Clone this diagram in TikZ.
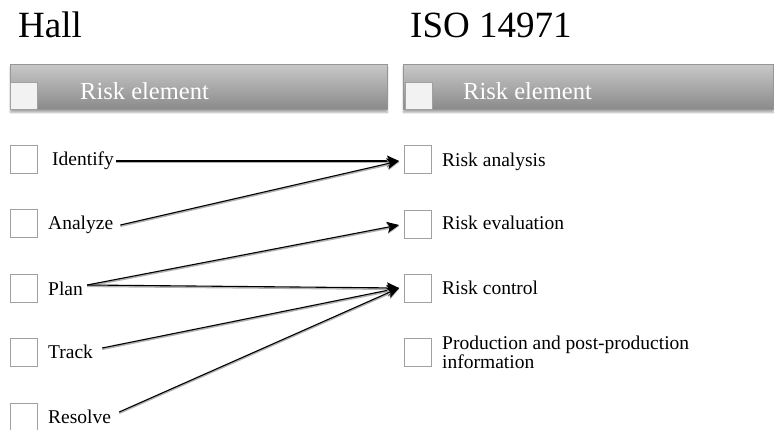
\documentclass[tikz,border=0pt]{standalone}
\usepackage{fontspec}
\setmainfont{Liberation Serif}
\usetikzlibrary{arrows.meta,calc,shadows.blur}
\definecolor{boxline}{RGB}{160,160,160}
\definecolor{bartop}{RGB}{200,200,200}
\definecolor{barbot}{RGB}{138,138,138}
\definecolor{barline}{RGB}{150,150,150}
\tikzset{
  title/.style={anchor=base west,inner sep=0pt,font=\fontsize{37}{40}\selectfont},
  bar/.style={draw=barline,line width=0.8pt,top color=bartop,bottom color=barbot,
    blur shadow={shadow xshift=0pt,shadow yshift=-3pt,shadow blur steps=6,shadow opacity=35}},
  barbox/.style={draw=boxline,line width=0.8pt,fill={rgb,255:red,242;green,242;blue,242}},
  bartext/.style={anchor=base west,inner sep=0pt,text=white,font=\fontsize{24.5}{28}\selectfont},
  cbox/.style={draw=boxline,line width=0.9pt,fill=white,minimum width=27pt,minimum height=28pt,inner sep=0pt},
  item/.style={anchor=base west,inner sep=0pt,font=\fontsize{19.5}{19}\selectfont,text=black},
  conn/.style={line width=1.1pt,-{Stealth[length=12pt,width=11pt,inset=2.5pt]},
    preaction={draw=black!30,line width=1.8pt,transform canvas={yshift=-1.2pt}}},
}
\begin{document}
\begin{tikzpicture}[x=1pt,y=-1pt]
\path[use as bounding box] (0,0) rectangle (774,430);
% titles
\node[title] (hall) at (18,38) {Hall};
\node[title] (iso) at (410,38) {ISO 14971};
% header bars
\node[bar,anchor=north west,minimum width=377pt,minimum height=45pt,inner sep=0pt] (barL) at (10,64) {};
\node[bar,anchor=north west,minimum width=370pt,minimum height=45pt,inner sep=0pt] (barR) at (403,64) {};
\node[barbox,anchor=north west,minimum width=27pt,minimum height=27pt,inner sep=0pt] (bbL) at (10,82) {};
\node[barbox,anchor=north west,minimum width=27pt,minimum height=27pt,inner sep=0pt] (bbR) at (405,82) {};
\node[bartext] (htL) at (80,100) {Risk element};
\node[bartext] (htR) at (463,100) {Risk element};
% left items
\node[cbox] (b1) at (23.5,159) {};
\node[cbox] (b2) at (23.5,223) {};
\node[cbox] (b3) at (23.5,288) {};
\node[cbox] (b4) at (23.5,352) {};
\node[cbox] (b5) at (23.5,417) {};
\node[item] (identify) at (52,166) {Identify};
\node[item] (analyze) at (48,230) {Analyze};
\node[item] (plan) at (48,296) {Plan};
\node[item] (track) at (48,359) {Track};
\node[item] (resolve) at (48,423) {Resolve};
% right items
\node[cbox] (r1) at (418,159) {};
\node[cbox] (r2) at (418,224) {};
\node[cbox] (r3) at (418,288) {};
\node[cbox] (r4) at (418,352) {};
\node[item] (ra) at (442,167) {Risk analysis};
\node[item] (re) at (442,230) {Risk evaluation};
\node[item] (rc) at (442,295) {Risk control};
\node[item,anchor=north west,align=left,font=\fontsize{19.5}{19}\selectfont] (pp) at (442,336) {Production and post-production\\information};
% connector start points
\coordinate (s1) at ($(identify.base east)+(2,-5)$);
\coordinate (s2) at ($(analyze.base east)+(7,-5)$);
\coordinate (s3) at ($(plan.base east)+(4,-11)$);
\coordinate (s4) at ($(track.base east)+(9,-11)$);
\coordinate (s5) at ($(resolve.base east)+(8,-11)$);
\coordinate (t1) at ($(r1.west)+(-5,2)$);
\coordinate (t2) at ($(r2.west)+(-5,1)$);
\coordinate (t3) at ($(r3.west)+(-5,0)$);
% connectors
\draw[conn] (s1) -- (t1);
\draw[conn] (s2) -- (t1);
\draw[conn] (s3) -- (t2);
\draw[conn] (s3) -- (t3);
\draw[conn] (s4) -- (t3);
\draw[conn] (s5) -- (t3);
\end{tikzpicture}
\end{document}
